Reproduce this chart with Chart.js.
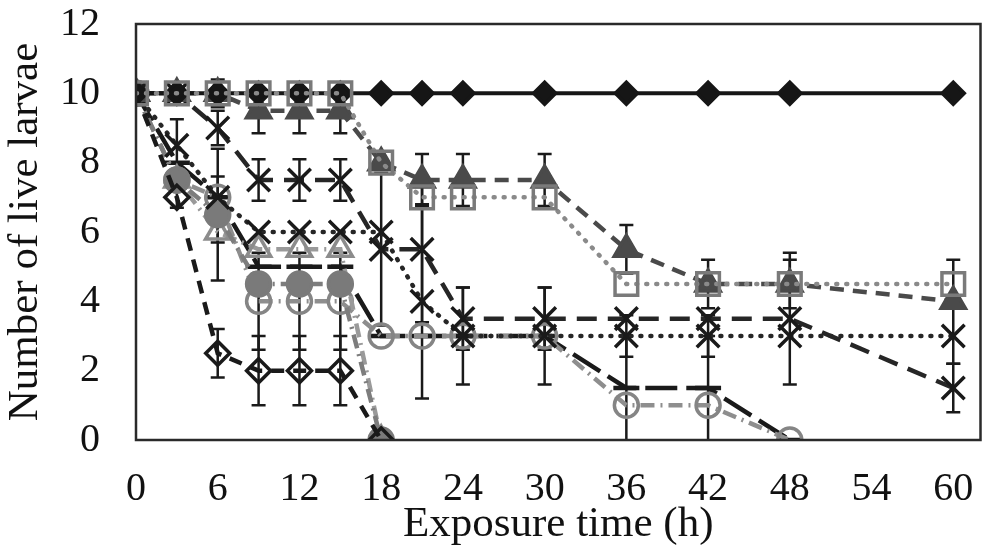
<!DOCTYPE html>
<html>
<head>
<meta charset="utf-8">
<script src="https://cdn.jsdelivr.net/npm/chart.js@4.4.1/dist/chart.umd.min.js"></script>
<style>
  html, body { margin: 0; padding: 0; background: #fff; }
  #wrap { width: 1000px; height: 555px; }
</style>
</head>
<body>
<div id="wrap"><canvas id="chart"></canvas></div>
<script>
// exposure times (h)
const times = [0, 3, 6, 9, 12, 15, 18, 21, 24, 30, 36, 42, 48, 60];
const xTicks = [0, 6, 12, 18, 24, 30, 36, 42, 48, 54, 60];
const yTicks = [0, 2, 4, 6, 8, 10, 12];

// live larvae per treatment
const control      = [10, 10, 10, 10, 10, 10, 10, 10, 10, 10, 10, 10, 10, 10];
const squareOpen   = [10, 10, 10, 10, 10, 10, 8, 7, 7, 7, 4.5, 4.5, 4.5, 4.5];
const triFilled    = [10, 10, 10, 9.5, 9.5, 9.5, 8, 7.5, 7.5, 7.5, 5.5, 4.5, 4.5, 4];
const crossDashed  = [10, 10, 9, 7.5, 7.5, 7.5, 5.5, 5.5, 3.5, 3.5, 3.5, 3.5, 3.5, 1.5];
const crossDotted  = [10, 8.5, 7, 6, 6, 6, 6, 4, 3, 3, 3, 3, 3, 3];
const diamondOpen  = [10, 7, 2.5, 2, 2, 2, 0, null, null, null, null, null, null, null];
const circleFilled = [10, 7.5, 6.5, 4.5, 4.5, 4.5, 0, null, null, null, null, null, null, null];
const triOpen      = [10, 7.5, 6, 5.5, 5.5, 5.5, 0, null, null, null, null, null, null, null];
const circleOpen   = [10, 7.5, 7, 4, 4, 4, 3, 3, 3, 3, 1, 1, 0, null];
const dashMarker   = [10, 8, 7, 5, 5, 5, 3, 3, 3, 3, 1.5, 1.5, 0, null];

// +/- error bar sizes
const errSquare       = [0, 0, 0, 0, 0, 0, 0, 0, 0, 0, 0, 0, 0, 0.7];
const errTriFilled    = [0, 0, 0.4, 0.65, 0.65, 0.65, 0, 0.75, 0.75, 0.75, 0.7, 0.7, 0.7, 0];
const errCrossDashed  = [0, 0, 0.5, 0.6, 0.6, 0.6, 2.2, 2.1, 0.9, 0.9, 0, 0, 1.9, 0.7];
const errCrossDotted  = [0, 0.75, 0.6, 0, 0, 0, 0, 2.8, 1.4, 1.4, 0.6, 0.6, 0, 0.8];
const errDiamondOpen  = [0, 0.3, 0.7, 1.0, 1.0, 1.0, 0, 0, 0, 0, 0, 0, 0, 0];
const errCircleFilled = [0, 0, 1.9, 0, 0, 0, 0, 0, 0, 0, 0, 0, 0, 0];
const errTriOpen      = [0, 0, 0.3, 0, 0, 0, 0, 0, 0, 0, 0, 0, 0, 0];
const errCircleOpen   = [0, 0, 0, 1.4, 1.4, 1.4, 0, 0, 0, 0, 0, 0, 0, 0];
const errDashMarker   = [0, 0, 0, 0, 0, 0, 0, 0, 0, 0, 1.5, 1.5, 0, 0];

function pts(values) {
  return times.map((t, i) => ({ x: t, y: values[i] }));
}

const serif = 'Liberation Serif, Times New Roman, serif';
const none = 'rgba(0,0,0,0)';

function series(values, errs, o) {
  return {
    data: pts(values),
    errors: errs,
    borderColor: o.line,
    borderWidth: o.lw || 4.5,
    borderDash: o.dash || [],
    borderCapStyle: o.cap || 'butt',
    pointStyle: o.marker,
    pointRadius: o.r,
    pointBorderColor: o.mline,
    pointBackgroundColor: o.fill,
    pointBorderWidth: o.mlw || 3.5,
    fill: false,
    tension: 0,
    spanGaps: false
  };
}

const datasets = [
  series(squareOpen, errSquare, { line: '#8a8a8a', dash: [1, 9], cap: 'round', marker: 'rect', r: 16, mline: '#7a7a7a', fill: none }),
  series(control, null, { line: '#161616', lw: 4, marker: 'rectRot', r: 11, mline: '#161616', fill: '#161616' }),
  series(triFilled, errTriFilled, { line: '#4a4a4a', dash: [14, 9], marker: 'triangle', r: 14, mline: '#4a4a4a', fill: '#4a4a4a' }),
  series(crossDashed, errCrossDashed, { line: '#262626', dash: [20, 11], marker: 'crossRot', r: 16, mline: '#1a1a1a', fill: none }),
  series(crossDotted, errCrossDotted, { line: '#262626', dash: [1, 9], cap: 'round', marker: 'crossRot', r: 16, mline: '#1a1a1a', fill: none }),
  series(diamondOpen, errDiamondOpen, { line: '#1a1a1a', dash: [13, 9], marker: 'rectRot', r: 12, mline: '#1a1a1a', fill: none }),
  series(circleFilled, errCircleFilled, { line: '#7d7d7d', dash: [14, 6, 2, 6], marker: 'circle', r: 12, mline: '#7a7a7a', fill: '#7a7a7a' }),
  series(triOpen, errTriOpen, { line: '#9a9a9a', dash: [14, 6, 2, 6], marker: 'triangle', r: 14, mline: '#8c8c8c', fill: none }),
  series(circleOpen, errCircleOpen, { line: '#8e8e8e', dash: [14, 6, 2, 6], marker: 'circle', r: 12, mline: '#858585', fill: none }),
  series(dashMarker, errDashMarker, { line: '#1a1a1a', dash: [32, 9], marker: 'line', r: 13, mline: '#1a1a1a', fill: none, mlw: 4.5 })
];

// error bars through the chart's scales, drawn under the markers
const errorBars = {
  id: 'errorBars',
  beforeDatasetsDraw(chart) {
    const { ctx, scales: { x, y } } = chart;
    ctx.save();
    ctx.strokeStyle = '#1a1a1a';
    ctx.lineWidth = 2.5;
    chart.data.datasets.forEach(ds => {
      if (!ds.errors) return;
      ds.data.forEach((p, i) => {
        const e = ds.errors[i];
        if (p.y == null || !e) return;
        const px = x.getPixelForValue(p.x);
        const top = y.getPixelForValue(Math.min(p.y + e, 12));
        const bot = y.getPixelForValue(Math.max(p.y - e, 0));
        ctx.beginPath();
        ctx.moveTo(px, top); ctx.lineTo(px, bot);
        ctx.moveTo(px - 7, top); ctx.lineTo(px + 7, top);
        if (p.y - e > 0) { ctx.moveTo(px - 7, bot); ctx.lineTo(px + 7, bot); }
        ctx.stroke();
      });
    });
    ctx.restore();
  }
};

// plot box
const frame = {
  id: 'frame',
  afterDraw(chart) {
    const { ctx, chartArea: a } = chart;
    ctx.save();
    ctx.strokeStyle = '#2a2a2a';
    ctx.lineWidth = 2.5;
    ctx.strokeRect(a.left, a.top, a.right - a.left, a.bottom - a.top);
    ctx.restore();
  }
};

new Chart(document.getElementById('chart'), {
  type: 'line',
  data: { datasets },
  plugins: [errorBars, frame],
  options: {
    responsive: true,
    maintainAspectRatio: false,
    animation: false,
    layout: { padding: { top: 0, right: 17, left: 0, bottom: 0 } },
    plugins: { legend: { display: false }, tooltip: { enabled: false } },
    scales: {
      x: {
        type: 'linear',
        min: 0,
        max: 62,
        // invisible tick marks only push the labels away from the axis
        grid: { display: false, drawTicks: true, tickLength: 25 },
        border: { display: false },
        afterBuildTicks: s => { s.ticks = xTicks.map(v => ({ value: v })); },
        afterFit: s => { s.height = 115; },
        ticks: {
          autoSkip: false, maxRotation: 0, padding: 0,
          color: '#111', font: { family: serif, size: 40 }
        },
        title: {
          display: true, text: 'Exposure time (h)', color: '#111',
          font: { family: serif, size: 43 }, padding: { top: 0, bottom: 4 }
        }
      },
      y: {
        min: 0,
        max: 12,
        grid: { display: false, drawTicks: true, tickLength: 36 },
        border: { display: false },
        afterBuildTicks: s => { s.ticks = yTicks.map(v => ({ value: v })); },
        afterFit: s => { s.width = 136; },
        ticks: {
          padding: 0, color: '#111', font: { family: serif, size: 40 }
        },
        title: {
          display: true, text: 'Number of live larvae', color: '#111',
          font: { family: serif, size: 43 }, padding: { top: 0, bottom: 0 }
        }
      }
    }
  }
});
</script>
</body>
</html>
